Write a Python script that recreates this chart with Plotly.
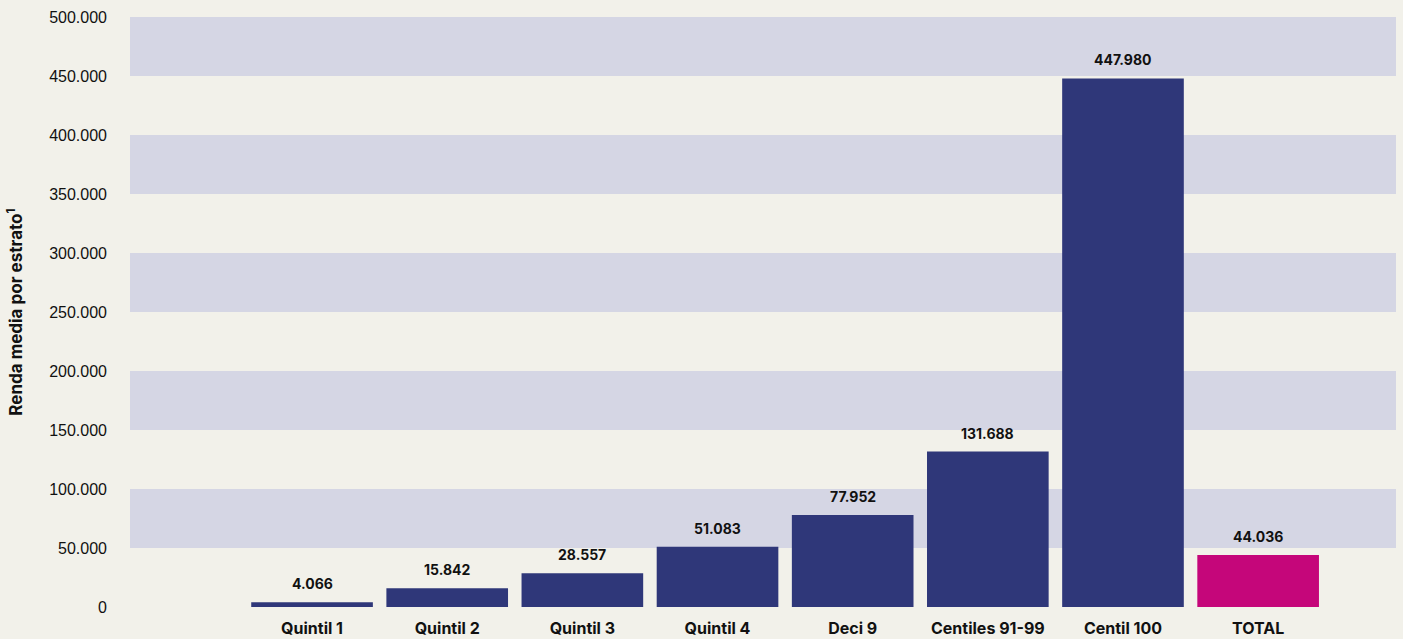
import plotly.graph_objects as go

# Mean income per stratum
categories = ["Quintil 1", "Quintil 2", "Quintil 3", "Quintil 4", "Deci 9",
              "Centiles 91-99", "Centil 100", "TOTAL"]
values = [4066, 15842, 28557, 51083, 77952, 131688, 447980, 44036]
value_labels = ["4.066", "15.842", "28.557", "51.083", "77.952",
                "131.688", "447.980", "44.036"]
tick_values = [0, 50000, 100000, 150000, 200000, 250000, 300000, 350000, 400000, 450000, 500000]
tick_labels = ["0", "50.000", "100.000", "150.000", "200.000", "250.000",
               "300.000", "350.000", "400.000", "450.000", "500.000"]

NAVY = "#2f3779"
MAGENTA = "#c5067a"
BG = "#f2f1ea"
BAND = "#d5d6e4"

colors = [MAGENTA if c == "TOTAL" else NAVY for c in categories]

fig = go.Figure()
fig.add_trace(go.Bar(
    x=categories, y=values,
    marker=dict(color=colors, line=dict(width=0)),
    hoverinfo="x+y",
))

# value labels above each bar
for c, v, t in zip(categories, values, value_labels):
    fig.add_annotation(
        x=c, y=v, text=f"<b>{t}</b>", showarrow=False,
        yanchor="bottom", yshift=8,
        font=dict(family="Inter", size=14, color="#111111"),
    )

# alternating horizontal bands
for lo in range(50000, 500000, 100000):
    fig.add_shape(type="rect", xref="paper", yref="y",
                  x0=0, x1=1, y0=lo, y1=lo + 50000,
                  fillcolor=BAND, line=dict(width=0), layer="below")

fig.update_layout(
    width=1403, height=639,
    paper_bgcolor=BG, plot_bgcolor=BG,
    margin=dict(l=130, r=7, t=17, b=32),
    bargap=0.1,
    showlegend=False,
    xaxis=dict(
        type="category", range=[-1.347, 8.02],
        automargin=False,
        showgrid=False, zeroline=False, showline=False, ticks="",
        tickfont=dict(family="Inter", size=16, color="#111111"),
        tickvals=categories,
        ticktext=[f"<b>{c}</b>" for c in categories],
        ticklabelstandoff=10,
    ),
    yaxis=dict(
        range=[0, 500000],
        automargin=False,
        tickvals=tick_values, ticktext=tick_labels,
        showgrid=False, zeroline=False, showline=False, ticks="",
        tickfont=dict(family="Liberation Sans", size=16, color="#111111"),
        ticklabelstandoff=22,
        title=dict(text="<b>Renda media por estrato<sup>1</sup></b>",
                   font=dict(family="Inter", size=17, color="#111111"),
                   standoff=22),
    ),
)

fig.write_html("out.html")
